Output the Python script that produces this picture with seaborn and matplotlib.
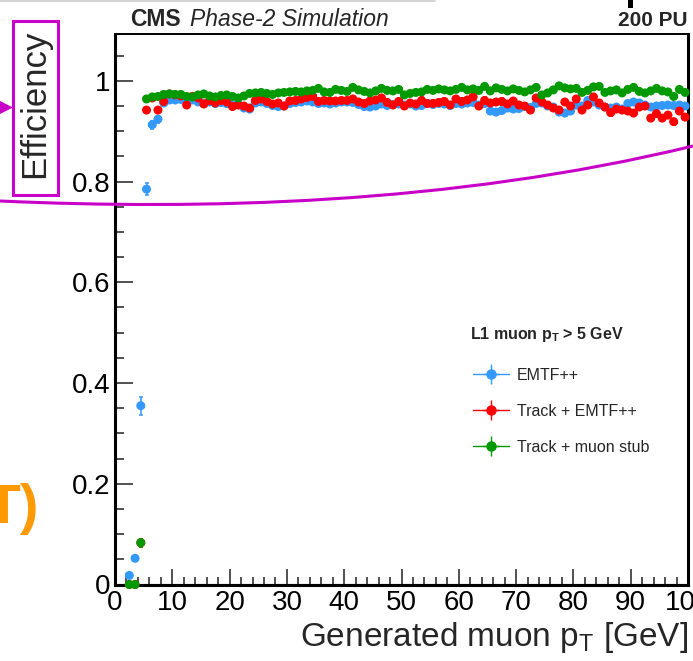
import numpy as np
import pandas as pd
import matplotlib
matplotlib.use("Agg")
import matplotlib.pyplot as plt
import seaborn as sns
from matplotlib.lines import Line2D
from matplotlib.patches import Rectangle, Polygon, PathPatch
from matplotlib.path import Path
from matplotlib.container import ErrorbarContainer
from matplotlib.legend_handler import HandlerErrorbar
from matplotlib.ticker import MultipleLocator, FuncFormatter

# bin centres of generated muon pT [GeV], 1 GeV bins from 2 to 100
pt_centers = np.arange(2.5, 100.0, 1.0)

eff_emtf = [0.018, 0.052, 0.355, 0.785, 0.913, 0.924, 0.956, 0.962, 0.962, 0.963,
            0.958, 0.962, 0.958, 0.955, 0.958, 0.955, 0.957, 0.955, 0.952, 0.954,
            0.946, 0.944, 0.956, 0.958, 0.955, 0.951, 0.949, 0.950, 0.955, 0.957,
            0.958, 0.960, 0.958, 0.955, 0.956, 0.954, 0.956, 0.958,
            0.958, 0.957, 0.953, 0.949, 0.948, 0.950, 0.954, 0.951, 0.953, 0.954,
            0.952, 0.954, 0.950, 0.951, 0.955, 0.953, 0.955, 0.954, 0.951, 0.955,
            0.954, 0.956, 0.957, 0.952, 0.955, 0.940, 0.938, 0.941, 0.946, 0.944,
            0.945, 0.949, 0.947, 0.955, 0.956, 0.950, 0.948, 0.938, 0.936, 0.940,
            0.952, 0.950, 0.961, 0.958, 0.952, 0.948, 0.946, 0.948, 0.944, 0.955,
            0.958, 0.956, 0.952, 0.948, 0.950, 0.951, 0.952, 0.951, 0.952, 0.950]

eff_track_emtf = [0.0, 0.0, 0.083, 0.942, 0.966, 0.942, 0.959, 0.974, 0.972, 0.970,
                  0.952, 0.969, 0.966, 0.954, 0.961, 0.956, 0.961, 0.958, 0.949, 0.952,
                  0.950, 0.946, 0.961, 0.964, 0.959, 0.954, 0.956, 0.950, 0.960, 0.961,
                  0.964, 0.967, 0.969, 0.959, 0.961, 0.960, 0.960, 0.961,
                  0.961, 0.964, 0.958, 0.955, 0.960, 0.962, 0.966, 0.957, 0.952, 0.959,
                  0.950, 0.956, 0.954, 0.961, 0.955, 0.955, 0.957, 0.959, 0.952, 0.964,
                  0.959, 0.962, 0.968, 0.950, 0.961, 0.956, 0.958, 0.959, 0.954, 0.960,
                  0.952, 0.950, 0.942, 0.966, 0.958, 0.952, 0.946, 0.942, 0.958, 0.950,
                  0.964, 0.942, 0.952, 0.968, 0.956, 0.948, 0.937, 0.944, 0.942, 0.940,
                  0.936, 0.948, 0.950, 0.926, 0.935, 0.926, 0.932, 0.919, 0.940, 0.928]

eff_track_stub = [0.0, 0.0, 0.083, 0.964, 0.968, 0.969, 0.973, 0.974, 0.973, 0.973,
                  0.969, 0.968, 0.972, 0.974, 0.970, 0.968, 0.971, 0.972, 0.969, 0.966,
                  0.970, 0.975, 0.976, 0.977, 0.975, 0.973, 0.976, 0.977, 0.978, 0.979,
                  0.978, 0.980, 0.981, 0.985, 0.978, 0.977, 0.983, 0.981,
                  0.979, 0.987, 0.982, 0.979, 0.976, 0.980, 0.985, 0.981, 0.980, 0.983,
                  0.972, 0.975, 0.977, 0.978, 0.983, 0.981, 0.984, 0.982, 0.980, 0.983,
                  0.987, 0.982, 0.984, 0.981, 0.989, 0.980, 0.986, 0.983, 0.980, 0.984,
                  0.981, 0.978, 0.982, 0.987, 0.972, 0.976, 0.982, 0.990, 0.986, 0.984,
                  0.985, 0.977, 0.981, 0.988, 0.989, 0.977, 0.980, 0.982, 0.976, 0.983,
                  0.987, 0.979, 0.976, 0.980, 0.985, 0.980, 0.978, 0.969, 0.983, 0.977]

err_emtf = [0.004, 0.006, 0.018, 0.012, 0.008, 0.007] + [0.004] * 34 + [0.005] * 58
err_track_emtf = [0.0, 0.0, 0.008, 0.005, 0.004, 0.005] + [0.004] * 34 + [0.006] * 58
err_track_stub = [0.0, 0.0, 0.008, 0.004, 0.004, 0.004] + [0.004] * 34 + [0.004] * 58

algos = ["EMTF++", "Track + EMTF++", "Track + muon stub"]
colors = ["#3399ff", "#ff0000", "#009900"]

df = pd.concat([
    pd.DataFrame({"pt": pt_centers, "eff": eff, "err": err, "algo": name})
    for name, eff, err in zip(algos, [eff_emtf, eff_track_emtf, eff_track_stub],
                              [err_emtf, err_track_emtf, err_track_stub])
], ignore_index=True)

sns.set_style("ticks")
plt.rcParams["font.family"] = ["Liberation Sans", "DejaVu Sans"]
plt.rcParams["mathtext.fontset"] = "custom"
plt.rcParams["mathtext.rm"] = "Liberation Sans"
plt.rcParams["mathtext.it"] = "Liberation Sans:italic"
plt.rcParams["mathtext.bf"] = "Liberation Sans:bold"

W, H = 693, 661
fig = plt.figure(figsize=(W / 100, H / 100), dpi=100)
ax = fig.add_axes([115 / W, (H - 584.5) / H, 573 / W, 550.5 / H])

for name, col in zip(algos, colors):
    d = df[df["algo"] == name]
    ax.errorbar(d["pt"], d["eff"], yerr=d["err"], xerr=0.5, fmt="none",
                ecolor=col, elinewidth=1.1, capsize=1.5, capthick=1.1, zorder=2)
sns.scatterplot(data=df, x="pt", y="eff", hue="algo", hue_order=algos,
                palette=colors, s=42, linewidth=0, legend=False, ax=ax,
                zorder=3, clip_on=False)

ax.axhline(0, color="#000080", lw=1.5, zorder=1.5)

ax.set_xlim(0, 100)
ax.set_ylim(0, 1.093)
ax.xaxis.set_major_locator(MultipleLocator(10))
ax.xaxis.set_minor_locator(MultipleLocator(2))
ax.yaxis.set_major_locator(MultipleLocator(0.2))
ax.yaxis.set_minor_locator(MultipleLocator(0.05))
ax.yaxis.set_major_formatter(FuncFormatter(lambda v, p: f"{v:g}"))
ax.tick_params(axis="both", which="both", direction="in", colors="#222222",
               labelcolor="black", labelsize=20, width=1.1)
ax.tick_params(axis="y", which="major", length=13, pad=3.5)
ax.tick_params(axis="y", which="minor", length=6.5)
ax.tick_params(axis="x", which="major", length=11.5, pad=4)
ax.tick_params(axis="x", which="minor", length=6)
for side, lw in [("left", 2.2), ("bottom", 2.2), ("right", 2.2), ("top", 1.4)]:
    ax.spines[side].set_linewidth(lw)
    ax.spines[side].set_color("black")

ax.set_xlabel("Generated muon p$_\\mathregular{T}$ [GeV]", fontsize=24, loc="right", labelpad=3)
ax.set_ylabel("")
fig.text(35 / W, 1 - 104 / H, "Efficiency", rotation=90, fontsize=25,
         ha="center", va="center")

# header texts
fig.text(130 / W, 1 - 26 / H, "CMS", fontsize=16.5, weight="bold", va="baseline")
fig.text(190 / W, 1 - 26 / H, "Phase-2 Simulation", fontsize=16.5, style="italic", va="baseline")
fig.text(688 / W, 1 - 26 / H, "200 PU", fontsize=15, weight="bold", va="baseline", ha="right")

# legend: proxy errorbar containers (NaN data, nothing drawn in the axes)
fig.text(470 / W, 1 - 335 / H, "L1 muon p$_\\mathbf{T}$ > 5 GeV", fontsize=11.5,
         weight="bold", va="center")
handles = [ax.errorbar([np.nan], [np.nan], xerr=[0.5], yerr=[0.01], fmt="o-",
                       color=c, ms=6.5, lw=1.0, elinewidth=1.0, capsize=0)
           for c in colors]
ax.legend(handles, algos, handler_map={ErrorbarContainer: HandlerErrorbar(xerr_size=0.5, yerr_size=0.63)},
          loc="upper left", bbox_to_anchor=(473 / W, 1 - 368 / H),
          bbox_transform=fig.transFigure, frameon=False, borderpad=0,
          borderaxespad=0, handlelength=2.26, handletextpad=0.5,
          labelspacing=1.3, fontsize=11.5, numpoints=1)

# slide annotations around the cropped chart
mag = "#c800c8"
fig.add_artist(Rectangle((13 / W, 1 - 195 / H), 45 / W, 174 / H, transform=fig.transFigure,
                         fill=False, ec=mag, lw=2.2, zorder=10))
fig.add_artist(Polygon([(0, 1 - 101 / H), (0, 1 - 114 / H), (13 / W, 1 - 107.5 / H)],
                       closed=True, transform=fig.transFigure, fc=mag, ec="none", zorder=10))
curve = Path([(0, 1 - 201 / H), (200 / W, 1 - 210 / H), (450 / W, 1 - 205 / H), (1.0, 1 - 146 / H)],
             [Path.MOVETO, Path.CURVE4, Path.CURVE4, Path.CURVE4])
fig.add_artist(PathPatch(curve, transform=fig.transFigure, fill=False, ec=mag, lw=2.2, zorder=10))
fig.text(-14 / W, 1 - 523 / H, "T)", fontsize=40, weight="bold", color="#ff9900", va="baseline")
fig.add_artist(Line2D([0, 435 / W], [1 - 1 / H, 1 - 1 / H], transform=fig.transFigure,
                      color="#cccccc", lw=1.2))
fig.add_artist(Rectangle((628 / W, 1 - 8 / H), 5 / W, 8 / H, transform=fig.transFigure,
                         fc="black", ec="none"))

fig.savefig("out.png", dpi=100)
